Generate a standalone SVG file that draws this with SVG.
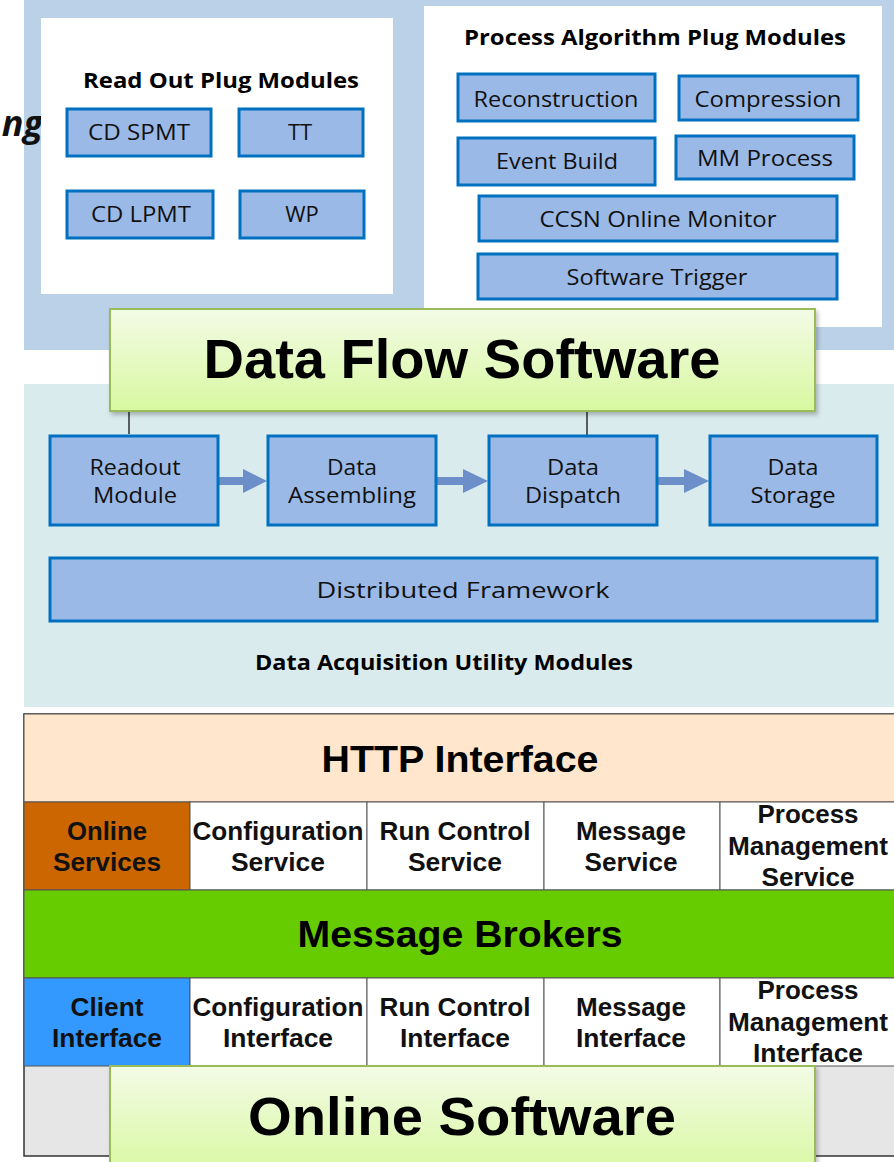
<svg xmlns="http://www.w3.org/2000/svg" width="894" height="1162" viewBox="0 0 894 1162">
  <defs>
    <linearGradient id="gTitle" x1="0" y1="0" x2="0" y2="1">
      <stop offset="0" stop-color="#F3FBE6"/>
      <stop offset="1" stop-color="#D8F8A0"/>
    </linearGradient>
    <filter id="shadow" x="-5%" y="-10%" width="110%" height="130%">
      <feDropShadow dx="2" dy="3" stdDeviation="2" flood-color="#000" flood-opacity="0.25"/>
    </filter>
  </defs>
  <style>
    .mod { fill: #9AB9E6; stroke: #0070C0; stroke-width: 3; }
    .seg { font-family: "Open Sans", "Noto Sans", sans-serif; font-size: 22px; fill: #111; text-anchor: middle; }
    .segb { font-family: "Open Sans", "Noto Sans", sans-serif; font-size: 21px; font-weight: bold; fill: #000; text-anchor: middle; }
    .title { fill: url(#gTitle); stroke: #9BBB59; stroke-width: 2; filter: url(#shadow); }
    .big { font-family: "Liberation Sans", Arial, sans-serif; font-weight: bold; fill: #000; text-anchor: middle; }
    .cell { stroke: #555; stroke-width: 1; }
    .ct { font-family: "Liberation Sans", Arial, sans-serif; font-weight: bold; font-size: 25px; fill: #111; text-anchor: middle; }
    .conn { stroke: #111; stroke-width: 1.3; fill: none; }
    .flow { fill: #6C8EC9; }
  </style>

  <!-- plug module layer -->
  <g id="plug-layer">
    <rect x="24" y="0" width="870" height="350" fill="#BAD1E8"/>
    <text x="43" y="136" font-family="'Open Sans', 'Noto Sans', sans-serif" font-size="36" font-weight="bold" font-style="italic" text-anchor="end" fill="#111">ng</text>
  </g>

  <g id="readout-plugins">
    <rect x="41" y="18" width="352" height="276" fill="#FFFFFF"/>
    <text class="segb" x="221" y="88" textLength="276" lengthAdjust="spacingAndGlyphs">Read Out Plug Modules</text>
  </g>
  <g id="cd-spmt"><rect class="mod" x="67" y="109" width="144" height="47"/><text class="seg" x="139" y="140" textLength="102" lengthAdjust="spacingAndGlyphs">CD SPMT</text></g>
  <g id="tt"><rect class="mod" x="239" y="109" width="124" height="47"/><text class="seg" x="300" y="140">TT</text></g>
  <g id="cd-lpmt"><rect class="mod" x="67" y="191" width="146" height="47"/><text class="seg" x="141" y="222" textLength="100" lengthAdjust="spacingAndGlyphs">CD LPMT</text></g>
  <g id="wp"><rect class="mod" x="240" y="191" width="124" height="47"/><text class="seg" x="302" y="222">WP</text></g>

  <g id="algorithm-plugins">
    <rect x="424" y="6" width="458" height="321" fill="#FFFFFF"/>
    <text class="segb" x="655" y="45" textLength="382" lengthAdjust="spacingAndGlyphs">Process Algorithm Plug Modules</text>
  </g>
  <g id="reconstruction"><rect class="mod" x="458" y="74" width="197" height="47"/><text class="seg" x="556" y="107" textLength="165" lengthAdjust="spacingAndGlyphs">Reconstruction</text></g>
  <g id="compression"><rect class="mod" x="679" y="76" width="179" height="44"/><text class="seg" x="768" y="107" textLength="147" lengthAdjust="spacingAndGlyphs">Compression</text></g>
  <g id="event-build"><rect class="mod" x="458" y="138" width="197" height="47"/><text class="seg" x="557" y="169" textLength="122" lengthAdjust="spacingAndGlyphs">Event Build</text></g>
  <g id="mm-process"><rect class="mod" x="676" y="136" width="178" height="43"/><text class="seg" x="765" y="166" textLength="136" lengthAdjust="spacingAndGlyphs">MM Process</text></g>
  <g id="ccsn-monitor"><rect class="mod" x="479" y="196" width="358" height="45"/><text class="seg" x="658" y="227" textLength="237" lengthAdjust="spacingAndGlyphs">CCSN Online Monitor</text></g>
  <g id="software-trigger"><rect class="mod" x="478" y="254" width="359" height="45"/><text class="seg" x="657" y="285" textLength="181" lengthAdjust="spacingAndGlyphs">Software Trigger</text></g>

  <!-- data acquisition utility layer -->
  <g id="utility-layer">
    <rect x="24" y="384" width="870" height="323" fill="#DAEBEE"/>
    <text class="segb" x="444" y="670" font-size="20" textLength="378" lengthAdjust="spacingAndGlyphs">Data Acquisition Utility Modules</text>
  </g>

  <g id="connectors">
    <line class="conn" x1="129" y1="411" x2="129" y2="434"/>
    <line class="conn" x1="587" y1="411" x2="587" y2="435"/>
    <path class="flow" d="M218 477 H243 V469 L267 481 L243 493 V485 H218 Z"/>
    <path class="flow" d="M437 477 H463 V469 L488 481 L463 493 V485 H437 Z"/>
    <path class="flow" d="M658 477 H684 V469 L709 481 L684 493 V485 H658 Z"/>
  </g>

  <g id="data-flow-software">
    <rect class="title" x="110" y="309" width="705" height="102"/>
    <text class="big" x="462" y="378" font-size="56" textLength="517" lengthAdjust="spacingAndGlyphs">Data Flow Software</text>
  </g>

  <g id="readout-module"><rect class="mod" x="50" y="436" width="168" height="89"/>
    <text class="seg" x="135" y="475" textLength="91" lengthAdjust="spacingAndGlyphs">Readout</text>
    <text class="seg" x="135" y="503" textLength="84" lengthAdjust="spacingAndGlyphs">Module</text></g>
  <g id="data-assembling"><rect class="mod" x="268" y="436" width="168" height="89"/>
    <text class="seg" x="352" y="475" textLength="50" lengthAdjust="spacingAndGlyphs">Data</text>
    <text class="seg" x="352" y="503" textLength="128" lengthAdjust="spacingAndGlyphs">Assembling</text></g>
  <g id="data-dispatch"><rect class="mod" x="489" y="436" width="168" height="89"/>
    <text class="seg" x="573" y="475" textLength="52" lengthAdjust="spacingAndGlyphs">Data</text>
    <text class="seg" x="573" y="503" textLength="96" lengthAdjust="spacingAndGlyphs">Dispatch</text></g>
  <g id="data-storage"><rect class="mod" x="710" y="436" width="167" height="89"/>
    <text class="seg" x="793" y="475" textLength="51" lengthAdjust="spacingAndGlyphs">Data</text>
    <text class="seg" x="793" y="503" textLength="85" lengthAdjust="spacingAndGlyphs">Storage</text></g>
  <g id="distributed-framework"><rect class="mod" x="50" y="558" width="827" height="63"/>
    <text class="seg" x="463" y="598" font-size="24" textLength="293" lengthAdjust="spacingAndGlyphs">Distributed Framework</text></g>

  <!-- online software stack -->
  <g id="online-stack">
    <rect x="24" y="714" width="890" height="442" fill="#E6E6E6" stroke="#333" stroke-width="1.5"/>
  </g>
  <g id="http-interface">
    <rect class="cell" x="24" y="714" width="890" height="88" fill="#FFE6CC"/>
    <text class="big" x="460" y="772" font-size="37" textLength="277" lengthAdjust="spacingAndGlyphs">HTTP Interface</text>
  </g>
  <g id="online-services">
    <rect class="cell" x="24" y="802" width="166" height="88" fill="#CC6600"/>
    <text class="ct" x="107" y="840" textLength="80" lengthAdjust="spacingAndGlyphs">Online</text>
    <text class="ct" x="107" y="871" textLength="108" lengthAdjust="spacingAndGlyphs">Services</text>
  </g>
  <g id="configuration-service">
    <rect class="cell" x="190" y="802" width="177" height="88" fill="#FFFFFF"/>
    <text class="ct" x="278" y="840" textLength="171" lengthAdjust="spacingAndGlyphs">Configuration</text>
    <text class="ct" x="278" y="871" textLength="94" lengthAdjust="spacingAndGlyphs">Service</text>
  </g>
  <g id="run-control-service">
    <rect class="cell" x="367" y="802" width="177" height="88" fill="#FFFFFF"/>
    <text class="ct" x="455" y="840" textLength="151" lengthAdjust="spacingAndGlyphs">Run Control</text>
    <text class="ct" x="455" y="871" textLength="94" lengthAdjust="spacingAndGlyphs">Service</text>
  </g>
  <g id="message-service">
    <rect class="cell" x="544" y="802" width="176" height="88" fill="#FFFFFF"/>
    <text class="ct" x="631" y="840" textLength="110" lengthAdjust="spacingAndGlyphs">Message</text>
    <text class="ct" x="631" y="871" textLength="93" lengthAdjust="spacingAndGlyphs">Service</text>
  </g>
  <g id="process-management-service">
    <rect class="cell" x="720" y="802" width="194" height="88" fill="#FFFFFF"/>
    <text class="ct" x="808" y="823" textLength="101" lengthAdjust="spacingAndGlyphs">Process</text>
    <text class="ct" x="808" y="855" textLength="160" lengthAdjust="spacingAndGlyphs">Management</text>
    <text class="ct" x="808" y="886" textLength="93" lengthAdjust="spacingAndGlyphs">Service</text>
  </g>
  <g id="message-brokers">
    <rect class="cell" x="24" y="890" width="890" height="88" fill="#66CC00"/>
    <text class="big" x="460" y="947" font-size="36" textLength="325" lengthAdjust="spacingAndGlyphs">Message Brokers</text>
  </g>
  <g id="client-interface">
    <rect class="cell" x="24" y="978" width="166" height="88" fill="#3399FF"/>
    <text class="ct" x="107" y="1016" textLength="73" lengthAdjust="spacingAndGlyphs">Client</text>
    <text class="ct" x="107" y="1047" textLength="110" lengthAdjust="spacingAndGlyphs">Interface</text>
  </g>
  <g id="configuration-interface">
    <rect class="cell" x="190" y="978" width="177" height="88" fill="#FFFFFF"/>
    <text class="ct" x="278" y="1016" textLength="171" lengthAdjust="spacingAndGlyphs">Configuration</text>
    <text class="ct" x="278" y="1047" textLength="110" lengthAdjust="spacingAndGlyphs">Interface</text>
  </g>
  <g id="run-control-interface">
    <rect class="cell" x="367" y="978" width="177" height="88" fill="#FFFFFF"/>
    <text class="ct" x="455" y="1016" textLength="151" lengthAdjust="spacingAndGlyphs">Run Control</text>
    <text class="ct" x="455" y="1047" textLength="110" lengthAdjust="spacingAndGlyphs">Interface</text>
  </g>
  <g id="message-interface">
    <rect class="cell" x="544" y="978" width="176" height="88" fill="#FFFFFF"/>
    <text class="ct" x="631" y="1016" textLength="110" lengthAdjust="spacingAndGlyphs">Message</text>
    <text class="ct" x="631" y="1047" textLength="110" lengthAdjust="spacingAndGlyphs">Interface</text>
  </g>
  <g id="process-management-interface">
    <rect class="cell" x="720" y="978" width="194" height="88" fill="#FFFFFF"/>
    <text class="ct" x="808" y="999" textLength="101" lengthAdjust="spacingAndGlyphs">Process</text>
    <text class="ct" x="808" y="1031" textLength="160" lengthAdjust="spacingAndGlyphs">Management</text>
    <text class="ct" x="808" y="1062" textLength="110" lengthAdjust="spacingAndGlyphs">Interface</text>
  </g>

  <g id="online-software">
    <rect class="title" x="110" y="1066" width="705" height="110"/>
    <text class="big" x="462" y="1135" font-size="54" textLength="428" lengthAdjust="spacingAndGlyphs">Online Software</text>
  </g>
</svg>
